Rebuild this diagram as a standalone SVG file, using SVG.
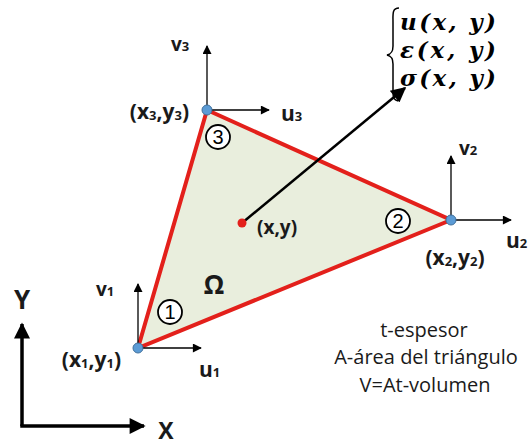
<svg xmlns="http://www.w3.org/2000/svg" width="531" height="445" viewBox="0 0 531 445">
<defs>
<marker id="ah" viewBox="0 0 10 10" refX="9" refY="5" markerWidth="10" markerHeight="9" markerUnits="userSpaceOnUse" orient="auto"><path d="M0,0 L10,5 L0,10 z" fill="#000"/></marker>
<marker id="ahs" viewBox="0 0 10 10" refX="9" refY="5" markerWidth="20" markerHeight="15" markerUnits="userSpaceOnUse" orient="auto"><path d="M0,0 L10,5 L0,10 z" fill="#000"/></marker>
<marker id="ahb" viewBox="0 0 10 10" refX="9" refY="5" markerWidth="20" markerHeight="16" markerUnits="userSpaceOnUse" orient="auto"><path d="M0,0 L10,5 L0,10 z" fill="#000"/></marker>
</defs>
<style>
.lbl{font-family:"Open Sans",Lato,"Liberation Sans",sans-serif;font-weight:bold;fill:#1a1a1a}
.sub{font-size:13px}
.txt{font-family:"Open Sans",Lato,"Liberation Sans",sans-serif;font-size:20px;fill:#1a1a1a;text-anchor:middle}
.math{font-family:"DejaVu Serif","Liberation Serif",serif;font-weight:bold;font-style:italic;font-size:23px;fill:#000}
.ax{stroke:#000;stroke-width:1.3;fill:none;marker-end:url(#ah)}
.node{fill:#5b9bd5;stroke:#41719c;stroke-width:1}
.num{fill:#fff;stroke:#000;stroke-width:1.8}
.numt{font-family:"Liberation Sans",Arial,sans-serif;font-size:20px;text-anchor:middle;fill:#000}
</style>
<g id="element">
<polygon points="138,348 207,110 451,220" fill="#e9eedd" stroke="#e3201b" stroke-width="4" stroke-linejoin="miter"/>
<text x="214" y="294" class="lbl" font-size="26" text-anchor="middle">Ω</text>
</g>
<g id="connectors">
<line x1="138" y1="348" x2="201" y2="348" class="ax"/>
<line x1="138" y1="348" x2="138" y2="284" class="ax"/>
<line x1="207" y1="110" x2="269" y2="110" class="ax"/>
<line x1="207" y1="110" x2="207" y2="46" class="ax"/>
<line x1="451" y1="220" x2="511" y2="220" class="ax"/>
<line x1="451" y1="220" x2="451" y2="156" class="ax"/>
<line x1="242" y1="223" x2="405" y2="88" stroke="#000" stroke-width="2.5" marker-end="url(#ahs)"/>
<line x1="22" y1="426" x2="22" y2="324" stroke="#000" stroke-width="3.5" marker-end="url(#ahb)"/>
<line x1="20.25" y1="426" x2="144" y2="426" stroke="#000" stroke-width="3.5" marker-end="url(#ahb)"/>
</g>
<g id="node1">
<circle cx="138" cy="348" r="5" class="node"/>
<circle cx="170" cy="312" r="12" class="num"/><text x="170" y="319" class="numt">1</text>
<text x="121" y="367" class="lbl" font-size="21" text-anchor="end">(x<tspan class="sub" dy="1">1</tspan><tspan dy="-1">,y</tspan><tspan class="sub" dy="1">1</tspan><tspan dy="-1">)</tspan></text>
<text x="96" y="296" class="lbl" font-size="19">v<tspan class="sub">1</tspan></text>
<text x="199" y="377" class="lbl" font-size="21">u<tspan class="sub">1</tspan></text>
</g>
<g id="node2">
<circle cx="451" cy="220" r="5" class="node"/>
<circle cx="398" cy="221" r="12" class="num"/><text x="398" y="228" class="numt">2</text>
<text x="455" y="265" class="lbl" font-size="21" text-anchor="middle">(x<tspan class="sub" dy="1">2</tspan><tspan dy="-1">,y</tspan><tspan class="sub" dy="1">2</tspan><tspan dy="-1">)</tspan></text>
<text x="459" y="155" class="lbl" font-size="19">v<tspan class="sub">2</tspan></text>
<text x="506" y="248" class="lbl" font-size="21">u<tspan class="sub">2</tspan></text>
</g>
<g id="node3">
<circle cx="207" cy="110" r="5" class="node"/>
<circle cx="218" cy="137" r="12" class="num"/><text x="218" y="144" class="numt">3</text>
<text x="189" y="119" class="lbl" font-size="21" text-anchor="end">(x<tspan class="sub" dy="1">3</tspan><tspan dy="-1">,y</tspan><tspan class="sub" dy="1">3</tspan><tspan dy="-1">)</tspan></text>
<text x="171" y="51" class="lbl" font-size="19">v<tspan class="sub">3</tspan></text>
<text x="281" y="121" class="lbl" font-size="21">u<tspan class="sub">3</tspan></text>
</g>
<g id="point">
<circle cx="242" cy="223" r="4.5" fill="#e3201b"/>
<text x="257" y="234" class="lbl" font-size="19">(x,y)</text>
</g>
<g id="fields">
<path d="M399,8 C392,8 393,14 393,22 L393,46 C393,52 391,54 387,55 C391,56 393,58 393,64 L393,92 C393,98 394,100 398,101" fill="none" stroke="#000" stroke-width="1.5"/>
<text x="400" y="30" class="math" textLength="96" lengthAdjust="spacing">u(x, y)</text>
<text x="400" y="58" class="math" textLength="96" lengthAdjust="spacing">ε(x, y)</text>
<text x="400" y="86" class="math" textLength="96" lengthAdjust="spacing">σ(x, y)</text>
</g>
<g id="axes">
<text x="22" y="309" class="lbl" font-size="26" text-anchor="middle">Y</text>
<text x="166" y="439" class="lbl" font-size="23" text-anchor="middle">X</text>
</g>
<g id="notes">
<text x="424" y="337" class="txt">t-espesor</text>
<text x="426" y="364" class="txt">A-área del triángulo</text>
<text x="425" y="392" class="txt">V=At-volumen</text>
</g>
</svg>
